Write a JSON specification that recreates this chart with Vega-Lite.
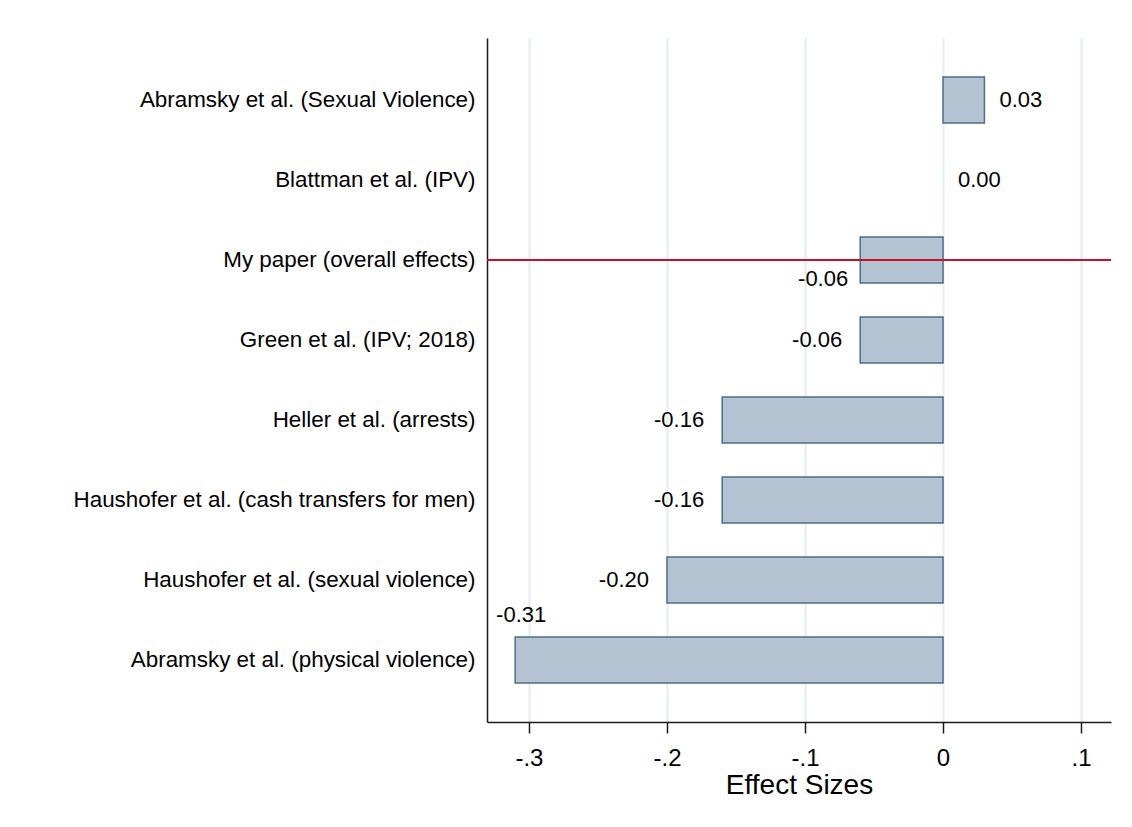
{
  "$schema": "https://vega.github.io/schema/vega-lite/v6.json",
  "width": 624,
  "height": 684,
  "autosize": {"type": "none"},
  "padding": {"left": 487, "top": 38, "right": 21, "bottom": 105},
  "background": "white",
  "config": {
    "font": "Liberation Sans",
    "view": {"stroke": null},
    "axis": {"labelColor": "black", "titleColor": "black", "labelFont": "Liberation Sans", "titleFont": "Liberation Sans", "titleFontWeight": "normal"}
  },
  "data": {
    "values": [
      {"study": "Abramsky et al. (Sexual Violence)", "effect": 0.03, "label": "0.03"},
      {"study": "Blattman et al. (IPV)", "effect": 0.0, "label": "0.00"},
      {"study": "My paper (overall effects)", "effect": -0.06, "label": "-0.06"},
      {"study": "Green et al. (IPV; 2018)", "effect": -0.06, "label": "-0.06"},
      {"study": "Heller et al. (arrests)", "effect": -0.16, "label": "-0.16"},
      {"study": "Haushofer et al. (cash transfers for men)", "effect": -0.16, "label": "-0.16"},
      {"study": "Haushofer et al. (sexual violence)", "effect": -0.2, "label": "-0.20"},
      {"study": "Abramsky et al. (physical violence)", "effect": -0.31, "label": "-0.31"}
    ]
  },
  "encoding": {
    "y": {
      "field": "study",
      "type": "nominal",
      "sort": null,
      "scale": {
        "domain": [
          "Abramsky et al. (Sexual Violence)",
          "Blattman et al. (IPV)",
          "My paper (overall effects)",
          "Green et al. (IPV; 2018)",
          "Heller et al. (arrests)",
          "Haushofer et al. (cash transfers for men)",
          "Haushofer et al. (sexual violence)",
          "Abramsky et al. (physical violence)"
        ],
        "paddingInner": 0.425,
        "paddingOuter": 0.4875
      },
      "axis": {
        "title": null,
        "ticks": false,
        "grid": false,
        "labelFontSize": 22.4,
        "labelPadding": 12,
        "labelLimit": 600,
        "domainColor": "#1a1a1a",
        "domainWidth": 1.5
      }
    }
  },
  "layer": [
    {
      "mark": {"type": "bar", "fill": "#b4c3d1", "stroke": "#4d6d8c", "strokeWidth": 1.5},
      "transform": [{"filter": "datum.effect != 0"}],
      "encoding": {
        "x": {
          "field": "effect",
          "type": "quantitative",
          "scale": {"domain": [-0.3304, 0.1217], "nice": false, "zero": false},
          "axis": {
            "title": "Effect Sizes",
            "titleFontSize": 28,
            "titlePadding": 1,
            "values": [-0.3, -0.2, -0.1, 0, 0.1],
            "labelExpr": "datum.value == 0 ? '0' : (datum.value < 0 ? '-' : '') + replace(format(abs(datum.value), '.1f'), '0.', '.')",
            "labelFontSize": 24,
            "labelPadding": 13,
            "tickSize": 11,
            "tickColor": "#1a1a1a",
            "tickWidth": 1.5,
            "domainColor": "#1a1a1a",
            "domainWidth": 1.5,
            "grid": true,
            "gridColor": "#e3edef",
            "gridWidth": 2
          }
        },
        "x2": {"datum": 0}
      }
    },
    {
      "mark": {"type": "rule", "color": "#c8102e", "strokeWidth": 2},
      "transform": [{"filter": "datum.study == 'My paper (overall effects)'"}],
      "encoding": {"y": {"field": "study", "type": "nominal", "sort": null, "band": 0.5}}
    },
    {
      "mark": {"type": "text", "align": "left", "baseline": "middle", "dx": 15, "fontSize": 22, "color": "black"},
      "transform": [{"filter": "datum.effect >= 0"}],
      "encoding": {"x": {"field": "effect", "type": "quantitative"}, "text": {"field": "label"}}
    },
    {
      "mark": {"type": "text", "align": "right", "baseline": "middle", "dx": -18, "fontSize": 22, "color": "black"},
      "transform": [{"filter": "datum.effect < 0 && datum.effect > -0.3 && datum.study != 'My paper (overall effects)'"}],
      "encoding": {"x": {"field": "effect", "type": "quantitative"}, "text": {"field": "label"}}
    },
    {
      "mark": {"type": "text", "align": "right", "baseline": "middle", "dx": -12, "dy": 19, "fontSize": 22, "color": "black"},
      "transform": [{"filter": "datum.study == 'My paper (overall effects)'"}],
      "encoding": {"x": {"field": "effect", "type": "quantitative"}, "text": {"field": "label"}}
    },
    {
      "mark": {"type": "text", "align": "center", "baseline": "middle", "dx": 6, "dy": -45, "fontSize": 22, "color": "black"},
      "transform": [{"filter": "datum.effect <= -0.3"}],
      "encoding": {"x": {"field": "effect", "type": "quantitative"}, "text": {"field": "label"}}
    }
  ]
}
